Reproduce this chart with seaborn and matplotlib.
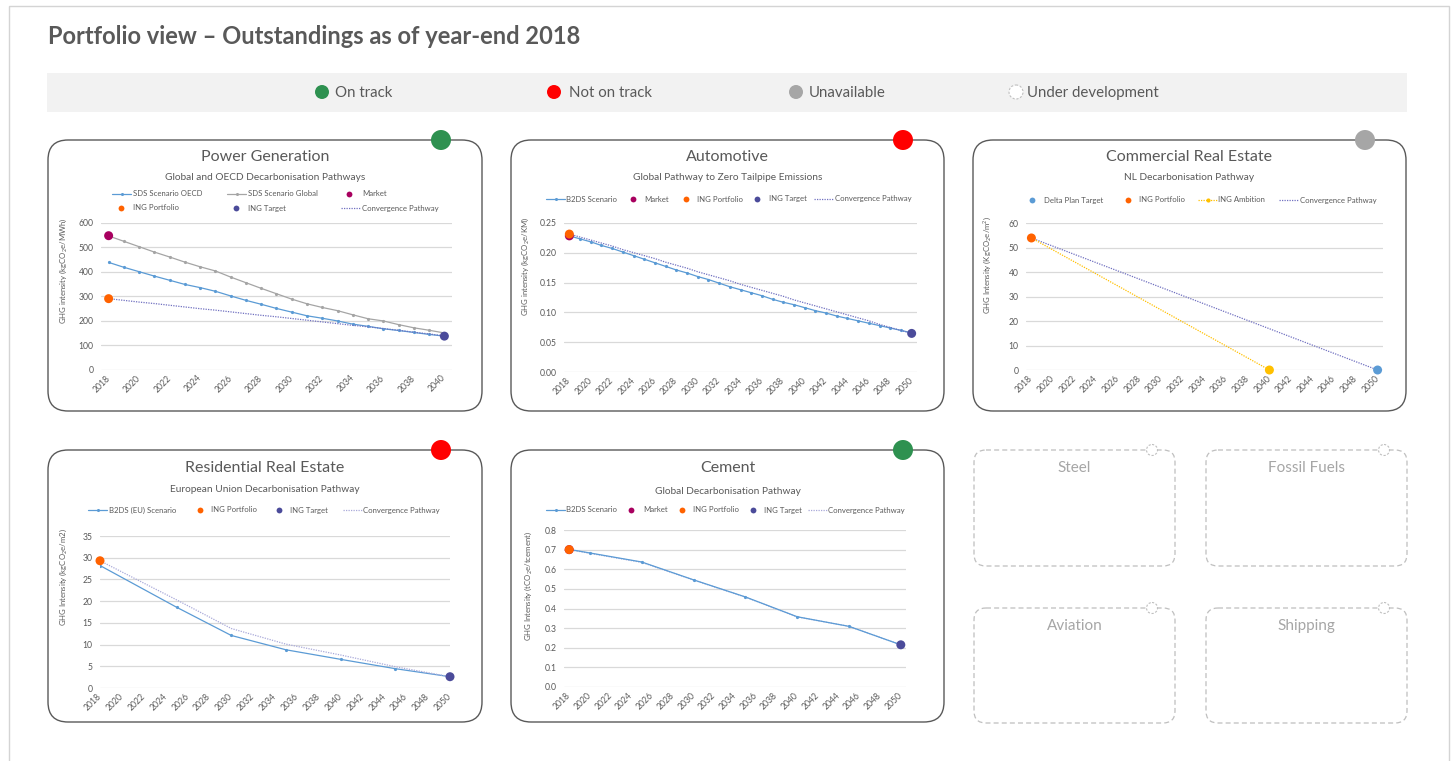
import matplotlib
matplotlib.use("Agg")
import matplotlib.pyplot as plt
import seaborn as sns
from matplotlib.patches import FancyBboxPatch, Rectangle, Circle

# ---------------- data ----------------
# Power Generation (kgCO2e/MWh)
pg_years = list(range(2018, 2041))
pg_oecd = [438, 418, 400, 382, 365, 348, 335, 320, 301, 283, 267, 250,
           235, 220, 210, 199, 186, 177, 167, 160, 152, 144, 137]
pg_global = [546, 524, 502, 480, 460, 439, 420, 403, 378, 355, 332, 310,
             288, 269, 254, 241, 224, 208, 199, 184, 171, 161, 150]
pg_conv = [290, 283, 276, 270, 263, 256, 249, 243, 236, 229, 222, 216,
           209, 202, 195, 188, 181, 175, 168, 161, 153, 146, 138]
pg_market = ([2018], [547])
pg_portfolio = ([2018], [290])
pg_target = ([2040], [137])

# Automotive (kgCO2e/km)
au_years = list(range(2018, 2051))
au_b2ds = [0.228, 0.223, 0.218, 0.212, 0.207, 0.201, 0.195, 0.189, 0.183, 0.177, 0.171,
           0.166, 0.160, 0.155, 0.149, 0.143, 0.138, 0.133, 0.128, 0.122, 0.117, 0.113,
           0.108, 0.103, 0.099, 0.094, 0.090, 0.086, 0.082, 0.078, 0.074, 0.070, 0.066]
au_conv = [0.231, 0.226, 0.221, 0.216, 0.211, 0.205, 0.200, 0.195, 0.190, 0.184, 0.179,
           0.174, 0.168, 0.163, 0.158, 0.153, 0.147, 0.142, 0.137, 0.132, 0.127, 0.121,
           0.116, 0.111, 0.106, 0.101, 0.096, 0.091, 0.086, 0.080, 0.075, 0.070, 0.065]
au_market = ([2018], [0.228])
au_portfolio = ([2018], [0.231])
au_target = ([2050], [0.065])

# Commercial Real Estate (kgCO2e/m2)
cre_delta = ([2050], [0])
cre_portfolio = ([2018], [54])
cre_ambition = ([2018, 2040], [54, 0])
cre_conv = ([2018, 2050], [54, 0])

# Residential Real Estate (kgCO2e/m2)
rre_years = [2018, 2025, 2030, 2035, 2040, 2045, 2050]
rre_b2ds = [28.2, 18.6, 12.1, 8.8, 6.6, 4.45, 2.6]
rre_conv = [29.3, 20.3, 13.7, 10.1, 7.6, 4.9, 2.6]
rre_portfolio = ([2018], [29.3])
rre_target = ([2050], [2.6])

# Cement (tCO2e/tcement)
ce_years = [2018, 2020, 2025, 2030, 2035, 2040, 2045, 2050]
ce_b2ds = [0.701, 0.683, 0.637, 0.546, 0.459, 0.358, 0.309, 0.215]
ce_conv = [0.700, 0.681, 0.635, 0.545, 0.458, 0.357, 0.309, 0.215]
ce_market = ([2018], [0.700])
ce_portfolio = ([2018], [0.700])
ce_target = ([2050], [0.215])

status_labels = ["On track", "Not on track", "Unavailable", "Under development"]
dev_sectors = ["Steel", "Fossil Fuels", "Aviation", "Shipping"]

# ---------------- style ----------------
sns.set_theme(style="white")
FONT = ["Lato", "DejaVu Sans"]
plt.rcParams["font.family"] = FONT
plt.rcParams["mathtext.fontset"] = "custom"
plt.rcParams["mathtext.rm"] = "Lato"
plt.rcParams["mathtext.it"] = "Lato:italic"

TXT = "#595959"
C_BLUE = "#5B9BD5"
C_GRAY = "#A5A5A5"
C_MARKET = "#A8005F"
C_ORANGE = "#FF6200"
C_TARGET = "#4B4B9A"
C_CONV = "#7070C0"
C_CONV_LIGHT = "#A9A9D9"
C_YELLOW = "#FFC000"
C_DELTA = "#5B9BD5"
C_GREEN = "#2E9150"
C_RED = "#FF0000"
C_UNAV = "#A6A6A6"

W, H = 1452, 761
fig = plt.figure(figsize=(W / 100, H / 100), dpi=100)
fig.patch.set_facecolor("white")

bg = fig.add_axes([0, 0, 1, 1], zorder=0)
bg.set_xlim(0, W)
bg.set_ylim(H, 0)
bg.axis("off")

# outer frame
bg.add_patch(Rectangle((9, 6), 1440, 800, fill=False, ec="#D4D4D4", lw=1))

# page title
bg.text(48, 37, "Portfolio view – Outstandings as of year-end 2018", fontsize=17,
        fontweight="bold", color=TXT, ha="left", va="center")

# status bar
bg.add_patch(Rectangle((47, 73), 1360, 39, fc="#F2F2F2", ec="none"))
status_cols = [C_GREEN, C_RED, C_UNAV, "white"]
status_x = [322, 554, 796, 1016]
status_tx = [335, 569, 809, 1027]
for col, cx, tx, lab in zip(status_cols, status_x, status_tx, status_labels):
    if col == "white":
        bg.add_patch(Circle((cx, 92), 7, fc="white", ec="#BFBFBF", lw=0.8, ls=(0, (2, 1.5))))
    else:
        bg.add_patch(Circle((cx, 92), 7, fc=col, ec="none"))
    bg.text(tx, 93, lab, fontsize=10.8, color=TXT, ha="left", va="center")


def panel_box(x0, y0, x1, y1, status_color, title, subtitle, tcy, scy):
    bg.add_patch(FancyBboxPatch((x0, y0), x1 - x0, y1 - y0,
                                boxstyle="round,pad=0,rounding_size=20",
                                fc="white", ec="#595959", lw=1.0))
    bg.add_patch(Circle((x1 - 41, y0), 10, fc=status_color, ec="none", zorder=5))
    cx = (x0 + x1) / 2
    bg.text(cx, tcy, title, fontsize=11.5, color=TXT, ha="center", va="center")
    bg.text(cx, scy, subtitle, fontsize=7.3, color=TXT, ha="center", va="center")


panel_box(48, 140, 482, 411, C_GREEN, "Power Generation",
          "Global and OECD Decarbonisation Pathways", 157, 178)
panel_box(511, 140, 944, 411, C_RED, "Automotive",
          "Global Pathway to Zero Tailpipe Emissions", 157, 178)
panel_box(973, 140, 1406, 411, C_UNAV, "Commercial Real Estate",
          "NL Decarbonisation Pathway", 157, 178)
panel_box(48, 450, 482, 722, C_RED, "Residential Real Estate",
          "European Union Decarbonisation Pathway", 468, 490)
panel_box(511, 450, 944, 722, C_GREEN, "Cement",
          "Global Decarbonisation Pathway", 468, 491)

# under-development boxes
dev_boxes = [(974, 450, 1175, 566), (1206, 450, 1407, 566),
             (974, 608, 1175, 723), (1206, 608, 1407, 723)]
for (x0, y0, x1, y1), name in zip(dev_boxes, dev_sectors):
    bg.add_patch(FancyBboxPatch((x0, y0), x1 - x0, y1 - y0,
                                boxstyle="round,pad=0,rounding_size=12",
                                fc="white", ec="#BFBFBF", lw=0.9, ls=(0, (4, 2.5))))
    bg.add_patch(Circle((x1 - 23, y0), 5.5, fc="white", ec="#BFBFBF", lw=0.8,
                        ls=(0, (2, 1.5)), zorder=5))
    bg.text((x0 + x1) / 2, y0 + 18, name, fontsize=11, color="#A6A6A6",
            ha="center", va="center")


# manual legend entries drawn in page pixel space
def leg(kind, x, y, label, color, tx):
    if kind == "line":
        bg.plot([x, x + 19], [y, y], color=color, lw=0.9)
        bg.plot([x + 9.5], [y], marker="o", ms=2.2, color=color, mew=0)
    elif kind == "dot":
        bg.plot([x], [y], marker="o", ms=4.2, color=color, mew=0)
    elif kind == "dotted":
        bg.plot([x, x + 19], [y, y], color=color, lw=0.9, ls=(0, (1, 1)))
    elif kind == "dotted_marker":
        bg.plot([x, x + 19], [y, y], color=color, lw=0.9, ls=(0, (1, 1)))
        bg.plot([x + 9.5], [y], marker="o", ms=3, color=color, mew=0)
    bg.text(tx, y, label, fontsize=5.6, color=TXT, ha="left", va="center")


def px_axes(x0, y0, x1, y1):
    return fig.add_axes([x0 / W, 1 - y1 / H, (x1 - x0) / W, (y1 - y0) / H], zorder=2)


def style_axes(ax, box, xlim, ylim, yticks, yfmt, xt_end, ylabel, ylab_xy):
    x0, y0, x1, y1 = box
    ax.set_facecolor("none")
    ax.set_xlim(*xlim)
    ax.set_ylim(*ylim)
    ax.set_yticks(yticks)
    ax.set_yticklabels([yfmt.format(v) for v in yticks])
    ax.set_xticks(list(range(2018, xt_end + 1, 2)))
    ax.set_xticklabels([str(v) for v in range(2018, xt_end + 1, 2)])
    for s in ax.spines.values():
        s.set_visible(False)
    ax.grid(axis="y", color="#D9D9D9", lw=0.9)
    ax.grid(axis="x", visible=False)
    ax.set_axisbelow(True)
    ax.tick_params(axis="both", length=0, labelsize=6.2, colors=TXT)
    ax.tick_params(axis="y", pad=5.5)
    ax.tick_params(axis="x", pad=5)
    plt.setp(ax.get_xticklabels(), rotation=45, ha="right", va="center",
             rotation_mode="anchor")
    ax.set_xlabel("")
    ax.set_ylabel(ylabel, fontsize=5.6, color=TXT)
    lx, ly = ylab_xy
    ax.yaxis.set_label_coords((lx - x0) / (x1 - x0), (y1 - ly) / (y1 - y0))


def line(ax, x, y, color, lw=0.9, marker=True):
    kw = dict(marker="o", markersize=2.3, markeredgewidth=0) if marker else {}
    sns.lineplot(x=x, y=y, ax=ax, color=color, lw=lw, legend=False, zorder=3, **kw)


def dotted(ax, x, y, color):
    sns.lineplot(x=x, y=y, ax=ax, color=color, lw=0.9, legend=False, zorder=3,
                 linestyle=(0, (1, 1)))


def dot(ax, xy, color, s=42):
    sns.scatterplot(x=xy[0], y=xy[1], ax=ax, color=color, s=s, edgecolor="none",
                    legend=False, zorder=5, clip_on=False)


# ---- Power Generation ----
box = (101, 222.7, 452, 369.7)
ax = px_axes(*box)
line(ax, pg_years, pg_global, C_GRAY)
line(ax, pg_years, pg_oecd, C_BLUE)
dotted(ax, pg_years, pg_conv, C_CONV)
dot(ax, pg_market, C_MARKET)
dot(ax, pg_portfolio, C_ORANGE)
dot(ax, pg_target, C_TARGET)
style_axes(ax, box, (2017.5, 2040.5), (0, 600), list(range(0, 601, 100)), "{:d}", 2040,
           r"GHG intensity (kgCO$_2$e/MWh)", (69, 271))
leg("line", 112, 194, "SDS Scenario OECD", C_BLUE, 133)
leg("line", 227, 194, "SDS Scenario Global", C_GRAY, 248)
leg("dot", 349, 194, "Market", C_MARKET, 362)
leg("dot", 121, 208, "ING Portfolio", C_ORANGE, 133)
leg("dot", 236, 208, "ING Target", C_TARGET, 248)
leg("dotted", 341, 208, "Convergence Pathway", C_CONV, 362)

# ---- Automotive ----
box = (564, 222.7, 917, 372.3)
ax = px_axes(*box)
line(ax, au_years, au_b2ds, C_BLUE)
dotted(ax, au_years, au_conv, C_CONV)
dot(ax, au_market, C_MARKET)
dot(ax, au_portfolio, C_ORANGE)
dot(ax, au_target, C_TARGET)
style_axes(ax, box, (2017.5, 2050.5), (0, 0.25), [0, 0.05, 0.10, 0.15, 0.20, 0.25], "{:.2f}",
           2050, r"GHG intensity (kgCO$_2$e/KM)", (531, 266))
leg("line", 546, 199, "B2DS Scenario", C_BLUE, 566)
leg("dot", 633, 199, "Market", C_MARKET, 644)
leg("dot", 686, 199, "ING Portfolio", C_ORANGE, 697)
leg("dot", 757, 199, "ING Target", C_TARGET, 769)
leg("dotted", 814, 199, "Convergence Pathway", C_CONV, 835)

# ---- Commercial Real Estate ----
box = (1026, 223.3, 1383, 370)
ax = px_axes(*box)
dotted(ax, cre_conv[0], cre_conv[1], C_CONV)
dotted(ax, cre_ambition[0], cre_ambition[1], C_YELLOW)
dot(ax, ([cre_ambition[0][-1]], [cre_ambition[1][-1]]), C_YELLOW)
dot(ax, cre_delta, C_DELTA)
dot(ax, cre_portfolio, C_ORANGE)
style_axes(ax, box, (2017.5, 2050.5), (0, 60), list(range(0, 61, 10)), "{:d}", 2050,
           r"GHG Intensity (KgCO$_2$e/m$^2$)", (993, 265))
leg("dot", 1032, 200, "Delta Plan Target", C_DELTA, 1044)
leg("dot", 1128, 200, "ING Portfolio", C_ORANGE, 1139)
leg("dotted_marker", 1198, 200, "ING Ambition", C_YELLOW, 1218)
leg("dotted", 1279, 200, "Convergence Pathway", C_CONV, 1300)

# ---- Residential Real Estate ----
box = (100, 536, 450, 688)
ax = px_axes(*box)
line(ax, rre_years, rre_b2ds, C_BLUE)
dotted(ax, rre_years, rre_conv, C_CONV_LIGHT)
dot(ax, rre_portfolio, C_ORANGE)
dot(ax, rre_target, C_TARGET)
style_axes(ax, box, (2018, 2050), (0, 35), list(range(0, 36, 5)), "{:d}", 2050,
           r"GHG Intensity (kgCO$_2$e/m2)", (69, 577))
leg("line", 88, 510, "B2DS (EU) Scenario", C_BLUE, 109)
leg("dot", 200, 510, "ING Portfolio", C_ORANGE, 211)
leg("dot", 279, 510, "ING Target", C_TARGET, 290)
leg("dotted", 343, 510, "Convergence Pathway", C_CONV_LIGHT, 363)

# ---- Cement ----
box = (564, 530, 906, 687)
ax = px_axes(*box)
dotted(ax, ce_years, ce_conv, C_CONV_LIGHT)
line(ax, ce_years, ce_b2ds, C_BLUE)
dot(ax, ce_market, C_MARKET)
dot(ax, ce_portfolio, C_ORANGE)
dot(ax, ce_target, C_TARGET)
style_axes(ax, box, (2017.5, 2050.5), (0, 0.8), [0, 0.1, 0.2, 0.3, 0.4, 0.5, 0.6, 0.7, 0.8],
           "{:.1f}", 2050, r"GHG Intensity (tCO$_2$e/tcement)", (534, 586))
leg("line", 546, 510, "B2DS Scenario", C_BLUE, 566)
leg("dot", 631, 510, "Market", C_MARKET, 643)
leg("dot", 682, 510, "ING Portfolio", C_ORANGE, 693)
leg("dot", 753, 510, "ING Target", C_TARGET, 764)
leg("dotted", 808, 510, "Convergence Pathway", C_CONV_LIGHT, 828)

fig.savefig("out.png", dpi=100, facecolor="white")
